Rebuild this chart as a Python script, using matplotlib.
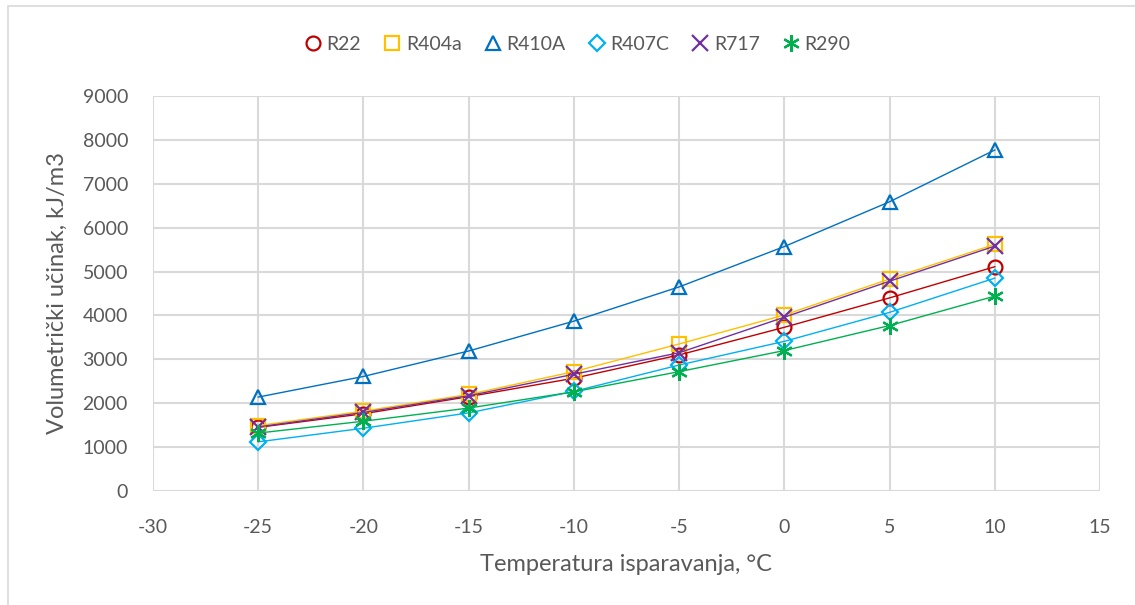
import matplotlib.pyplot as plt
from matplotlib.patches import Rectangle

plt.rcParams['font.family'] = ['Lato', 'DejaVu Sans']
plt.rcParams['axes.unicode_minus'] = False

# temperature points
temps = [-25, -20, -15, -10, -5, 0, 5, 10]

# volumetric capacity, kJ/m3
r22 = [1450, 1760, 2150, 2570, 3100, 3730, 4400, 5110]
r404a = [1490, 1820, 2200, 2720, 3350, 4010, 4830, 5620]
r410a = [2140, 2610, 3190, 3870, 4650, 5570, 6590, 7770]
r407c = [1120, 1430, 1780, 2270, 2870, 3410, 4070, 4850]
r717 = [1460, 1790, 2170, 2660, 3150, 3960, 4780, 5580]
r290 = [1320, 1590, 1890, 2260, 2720, 3200, 3770, 4440]

names = ["R22", "R404a", "R410A", "R407C", "R717", "R290"]
series = [r22, r404a, r410a, r407c, r717, r290]
colors = ["#C00000", "#FFC000", "#0070C0", "#00B0F0", "#7030A0", "#00B050"]
markers = ["o", "s", "^", "D", "x", (6, 2, 0)]
msizes = [10, 10, 10, 8, 11, 12]

fig = plt.figure(figsize=(11.35, 6.05), dpi=100)
ax = fig.add_axes([153 / 1135, 1 - 491 / 605, (1100 - 153) / 1135, (491 - 96) / 605])

# chart border (left and top visible in the reference)
fig.patches.append(Rectangle((8 / 1135, -0.05), 1.2, (600 / 605) + 0.05 - 0.002,
                             transform=fig.transFigure, fill=False,
                             edgecolor="#D9D9D9", linewidth=1.2))

for name, vals, c, m, ms in zip(names, series, colors, markers, msizes):
    ax.plot(temps, vals, color=c, linewidth=1.0, marker=m, markersize=ms,
            markerfacecolor="none", markeredgecolor=c, markeredgewidth=1.6,
            label=name, zorder=3)

ax.set_xlim(-30, 15)
ax.set_ylim(0, 9000)
ax.set_xticks(range(-30, 16, 5))
ax.set_yticks(range(0, 9001, 1000))
ax.grid(True, color="#D9D9D9", linewidth=1.5)
ax.set_axisbelow(True)
for s in ax.spines.values():
    s.set_visible(False)
ax.tick_params(length=0, labelsize=14, labelcolor="#595959")
ax.tick_params(axis="x", pad=20)
ax.tick_params(axis="y", pad=18)

ax.set_xlabel("Temperatura isparavanja, °C", fontsize=17, color="#595959")
ax.set_ylabel("Volumetrički učinak, kJ/m3", fontsize=17, color="#595959")
ax.xaxis.set_label_coords(0.5, -0.16)
ax.yaxis.set_label_coords(-0.09, 0.5)

ax.legend(loc="center", bbox_to_anchor=(578 / 1135, 1 - 44 / 605), bbox_transform=fig.transFigure,
          ncol=6, frameon=False, fontsize=14, labelcolor="#595959",
          handlelength=0.8, handletextpad=0.3, columnspacing=1.2)
for h in ax.get_legend().legend_handles:
    h.set_linestyle("none")

fig.savefig("out.png", dpi=100)
